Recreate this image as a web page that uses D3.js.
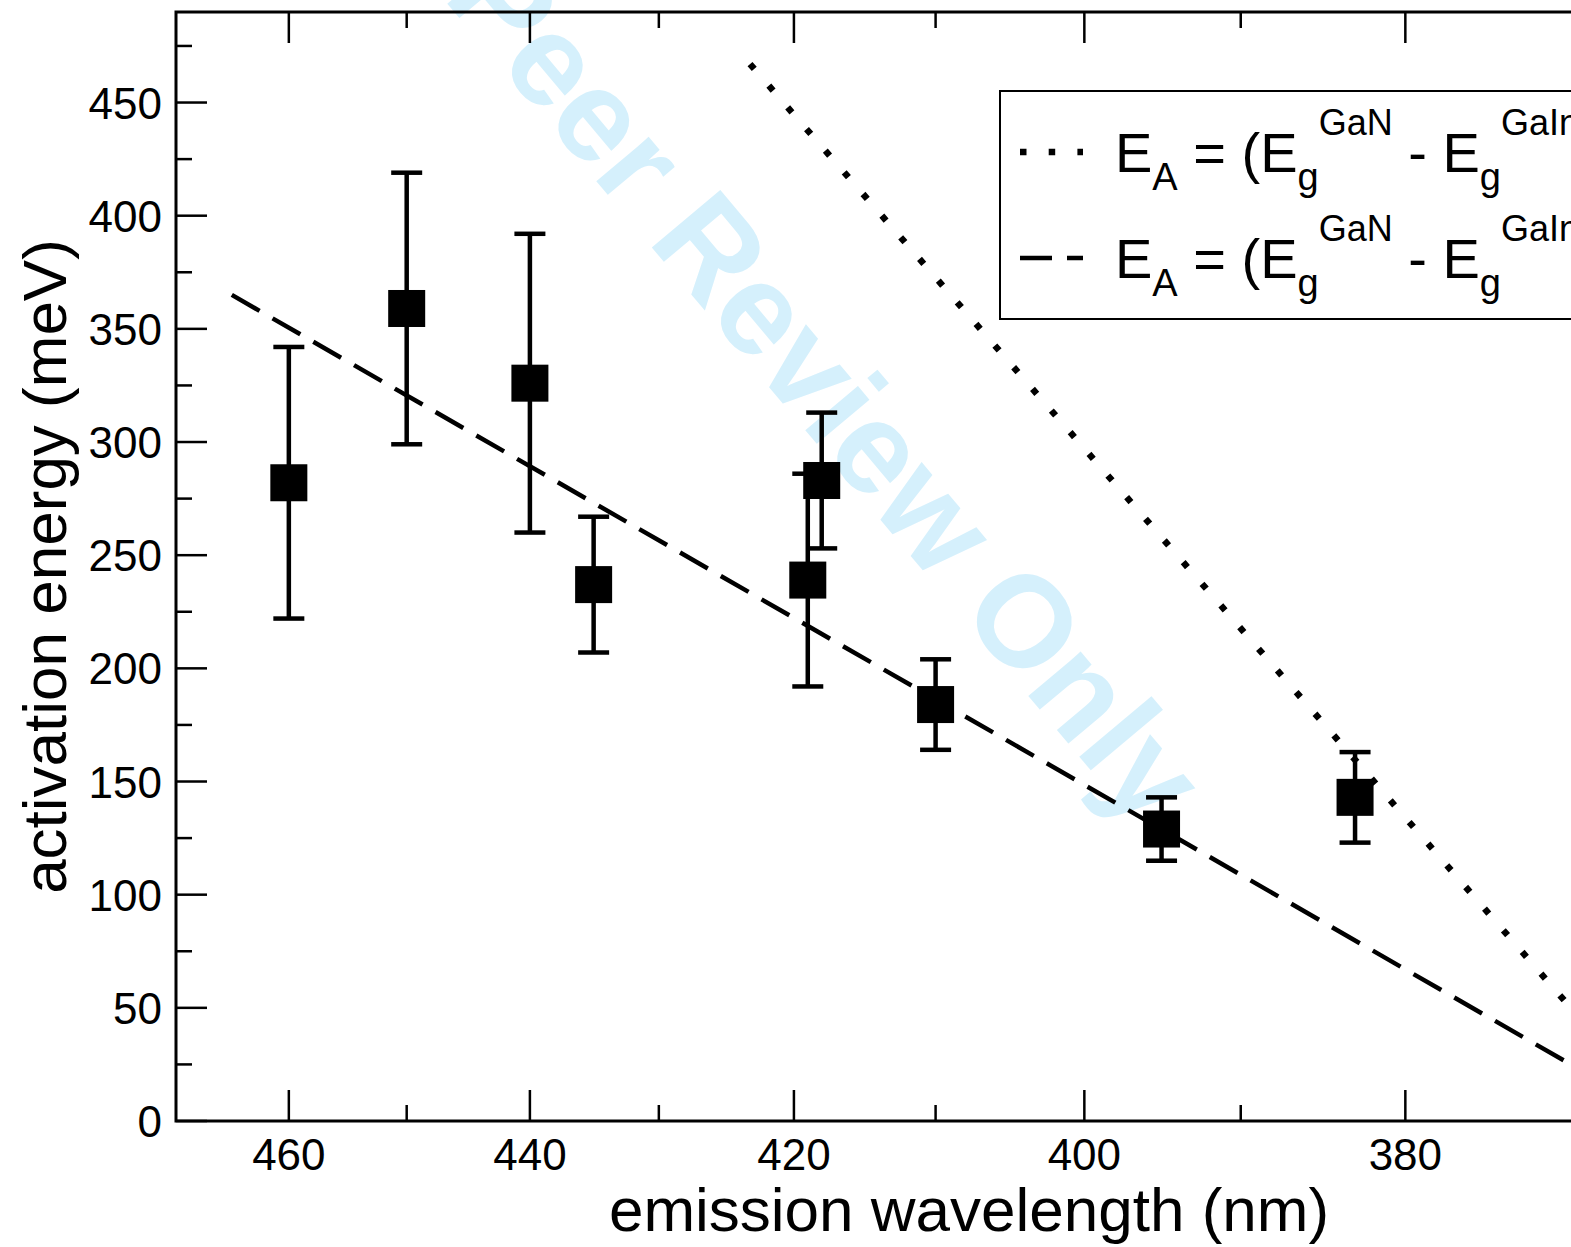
<!DOCTYPE html>
<html>
<head>
<meta charset="utf-8">
<script src="https://cdn.jsdelivr.net/npm/d3@7"></script>
<style>
  html, body { margin: 0; padding: 0; background: #fff; }
  svg { display: block; }
  text { font-family: "Liberation Sans", Arial, Helvetica, sans-serif; fill: #000; }
</style>
</head>
<body>
<script>
// ---- data ----
const wavelengths = [460, 450, 440, 435, 419, 418, 410, 395, 383];        // nm
const activation  = [282, 359, 326, 237, 239, 283, 184, 129, 143];        // meV
const errors      = [60, 60, 66, 30, 47, 30, 20, 14, 20];                 // meV (symmetric)

const dottedWl = [423.2, 365];   // E_A = (Eg^GaN - Eg^GaInN)
const dottedEa = [467, 0];
const dashedWl = [465, 365];     // E_A = (Eg^GaN - Eg^GaInN)/2
const dashedEa = [365, 0];

const xMajorTicks = [460, 440, 420, 400, 380];
const xMinorTicks = [450, 430, 410, 390, 370];
const yMajorTicks = [0, 50, 100, 150, 200, 250, 300, 350, 400, 450];
const yMinorTicks = [25, 75, 125, 175, 225, 275, 325, 375, 425, 475];

const xDomainNm = [470, 360];
const yDomain = [0, 490];

const legendLabels = [
  {sub2: "GaInN", tail: ")"},
  {sub2: "GaInN", tail: ")/2"}
];

// ---- layout ----
const W = 1571, H = 1247;
const mL = 176, mT = 12, mR = 1762, mB = 1121;

const svg = d3.select("body").append("svg").attr("width", W).attr("height", H);

// x axis is linear in photon energy (1/lambda), labelled in wavelength
const xe = d3.scaleLinear().domain([1 / xDomainNm[0], 1 / xDomainNm[1]]).range([mL, mR]);
const x = wl => xe(1 / wl);
const y = d3.scaleLinear().domain(yDomain).range([mB, mT]);

svg.append("defs").append("clipPath").attr("id", "clip")
  .append("rect").attr("x", mL).attr("y", mT).attr("width", mR - mL).attr("height", mB - mT);

// watermark
svg.append("text")
  .attr("transform", "translate(748,292) rotate(50)")
  .attr("text-anchor", "middle")
  .attr("dominant-baseline", "central")
  .style("font-size", "130px")
  .style("font-weight", "bold")
  .style("fill", "rgb(213,240,252)")
  .text("For Peer Review Only");

const plot = svg.append("g").attr("clip-path", "url(#clip)");

const line = d3.line().x(d => x(d[0])).y(d => y(d[1]));

plot.append("path")
  .attr("d", line(d3.zip(dottedWl, dottedEa)))
  .attr("fill", "none").attr("stroke", "#000")
  .attr("stroke-width", 6.5).attr("stroke-dasharray", "6.5 22.2");

plot.append("path")
  .attr("d", line(d3.zip(dashedWl, dashedEa)))
  .attr("fill", "none").attr("stroke", "#000")
  .attr("stroke-width", 4.5).attr("stroke-dasharray", "32 15");

// error bars
const pts = wavelengths.map((w, i) => ({w, v: activation[i], e: errors[i]}));
const capW = 31, sq = 37;
const eb = plot.append("g").attr("stroke", "#000").attr("stroke-width", 4.5);
pts.forEach(p => {
  const cx = x(p.w);
  eb.append("line").attr("x1", cx).attr("x2", cx).attr("y1", y(p.v - p.e)).attr("y2", y(p.v + p.e));
  eb.append("line").attr("x1", cx - capW / 2).attr("x2", cx + capW / 2).attr("y1", y(p.v + p.e)).attr("y2", y(p.v + p.e));
  eb.append("line").attr("x1", cx - capW / 2).attr("x2", cx + capW / 2).attr("y1", y(p.v - p.e)).attr("y2", y(p.v - p.e));
});
plot.append("g").selectAll("rect").data(pts).join("rect")
  .attr("x", d => x(d.w) - sq / 2).attr("y", d => y(d.v) - sq / 2)
  .attr("width", sq).attr("height", sq).attr("fill", "#000");

// axes frame
const ax = svg.append("g").attr("stroke", "#000");
ax.append("rect").attr("x", mL).attr("y", mT).attr("width", mR - mL).attr("height", mB - mT)
  .attr("fill", "none").attr("stroke-width", 3);

const majL = 31, minL = 16;
xMajorTicks.forEach(t => {
  ax.append("line").attr("x1", x(t)).attr("x2", x(t)).attr("y1", mB).attr("y2", mB - majL).attr("stroke-width", 2.5);
  ax.append("line").attr("x1", x(t)).attr("x2", x(t)).attr("y1", mT).attr("y2", mT + majL).attr("stroke-width", 2.5);
});
xMinorTicks.forEach(t => {
  ax.append("line").attr("x1", x(t)).attr("x2", x(t)).attr("y1", mB).attr("y2", mB - minL).attr("stroke-width", 2.5);
  ax.append("line").attr("x1", x(t)).attr("x2", x(t)).attr("y1", mT).attr("y2", mT + minL).attr("stroke-width", 2.5);
});
yMajorTicks.forEach(t => {
  ax.append("line").attr("x1", mL).attr("x2", mL + majL).attr("y1", y(t)).attr("y2", y(t)).attr("stroke-width", 2.5);
  ax.append("line").attr("x1", mR).attr("x2", mR - majL).attr("y1", y(t)).attr("y2", y(t)).attr("stroke-width", 2.5);
});
yMinorTicks.forEach(t => {
  ax.append("line").attr("x1", mL).attr("x2", mL + minL).attr("y1", y(t)).attr("y2", y(t)).attr("stroke-width", 2.5);
  ax.append("line").attr("x1", mR).attr("x2", mR - minL).attr("y1", y(t)).attr("y2", y(t)).attr("stroke-width", 2.5);
});

// tick labels
svg.append("g").selectAll("text").data(xMajorTicks).join("text")
  .attr("x", d => x(d)).attr("y", mB + 49)
  .attr("text-anchor", "middle").style("font-size", "44px").text(d => d);
svg.append("g").selectAll("text").data(yMajorTicks).join("text")
  .attr("x", mL - 14).attr("y", d => y(d) + 16)
  .attr("text-anchor", "end").style("font-size", "44px").text(d => d);

// axis titles
svg.append("text").attr("x", (mL + mR) / 2).attr("y", 1231)
  .attr("text-anchor", "middle").style("font-size", "62px").text("emission wavelength (nm)");
svg.append("text").attr("transform", `translate(66,${(mT + mB) / 2}) rotate(-90)`)
  .attr("text-anchor", "middle").style("font-size", "62px").text("activation energy (meV)");

// legend
const lg = svg.append("g");
lg.append("rect").attr("x", 1000).attr("y", 91).attr("width", 900).attr("height", 228)
  .attr("fill", "#fff").attr("stroke", "#000").attr("stroke-width", 2);
const styles = [
  {w: 6.5, dash: "6.5 22.2"},
  {w: 4.5, dash: "32 15"}
];
legendLabels.forEach((L, i) => {
  const base = 172 + i * 106;
  lg.append("line").attr("x1", 1020).attr("x2", 1083).attr("y1", base - 20).attr("y2", base - 20)
    .attr("stroke", "#000").attr("stroke-width", styles[i].w).attr("stroke-dasharray", styles[i].dash);
  const t = lg.append("text").attr("x", 1115).attr("y", base).style("font-size", "56px");
  t.append("tspan").text("E");
  t.append("tspan").attr("dy", 18).style("font-size", "38px").text("A");
  t.append("tspan").attr("dy", -18).text(" = (E");
  t.append("tspan").attr("dy", 18).style("font-size", "38px").text("g");
  t.append("tspan").attr("dy", -55).style("font-size", "36px").text("GaN");
  t.append("tspan").attr("dy", 37).text(" - E");
  t.append("tspan").attr("dy", 18).style("font-size", "38px").text("g");
  t.append("tspan").attr("dy", -55).style("font-size", "36px").text(L.sub2);
  t.append("tspan").attr("dy", 37).text(L.tail);
});
</script>
</body>
</html>
